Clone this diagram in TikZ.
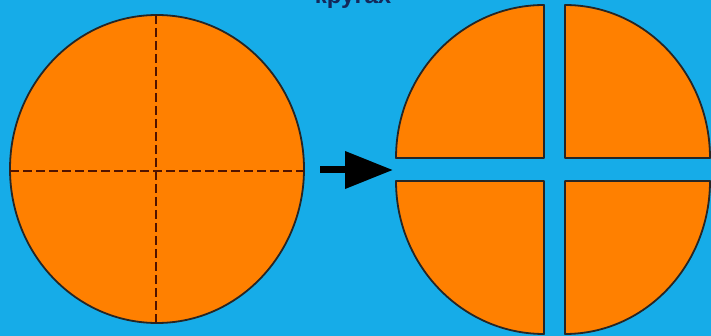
\documentclass[tikz,border=0pt]{standalone}
\usepackage{fontspec}
\newfontfamily\labelfont{Liberation Sans}
\usetikzlibrary{arrows.meta,shapes.geometric}
\definecolor{bgcyan}{RGB}{22,172,232}
\definecolor{piece}{RGB}{255,128,0}
\definecolor{cutline}{RGB}{80,20,0}
\definecolor{navy}{RGB}{20,40,90}
\tikzset{
  piecestyle/.style={fill=piece, draw=black!85, line width=1.8pt, line join=round},
  cutstyle/.style={draw=cutline, line width=1.8pt, dash pattern=on 9pt off 4pt},
}
\begin{document}
\begin{tikzpicture}[x=1pt,y=-1pt]
\useasboundingbox (0,0) rectangle (711,336);
\clip (0,0) rectangle (711,336);
\fill[bgcyan] (0,0) rectangle (711,336);
% title, mostly cut off at the top edge
\node[anchor=base, font=\labelfont\bfseries\fontsize{24}{26}\selectfont, text=navy, inner sep=0pt] (title) at (353,4) {кругах};
% whole circle
\node[piecestyle, ellipse, minimum width=294pt, minimum height=308pt, inner sep=0pt, outer sep=0pt] (whole) at (157,169) {};
\coordinate (vt) at (156,15);
\coordinate (vb) at (156,323);
\coordinate (hl) at (10,171);
\coordinate (hr) at (304,171);
\draw[cutstyle] (vt) -- (vb);
\draw[cutstyle] (hl) -- (hr);
% arrow
\coordinate (as) at (320,170);
\coordinate (ae) at (393,170);
\draw[line width=7pt, -{Triangle[length=48pt, width=36pt]}] (as) -- (ae);
% quarters
\draw[piecestyle] (544,158) -- (396,158) arc[start angle=180, end angle=270, x radius=148, y radius=153] -- cycle;
\draw[piecestyle] (565,158) -- (565,5) arc[start angle=270, end angle=360, x radius=145, y radius=153] -- cycle;
\draw[piecestyle] (544,181) -- (396,181) arc[start angle=180, end angle=90, x radius=148, y radius=153] -- cycle;
\draw[piecestyle] (565,181) -- (565,334) arc[start angle=90, end angle=0, x radius=145, y radius=153] -- cycle;
\end{tikzpicture}
\end{document}
